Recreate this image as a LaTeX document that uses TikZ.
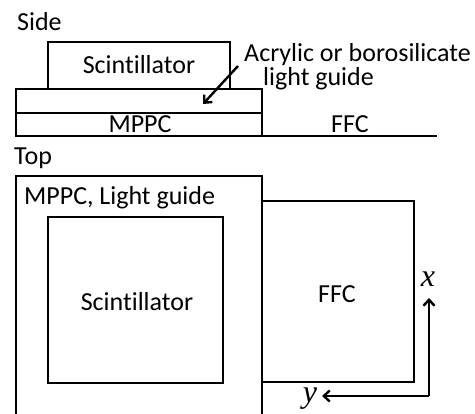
\documentclass[tikz,border=0pt]{standalone}
\usepackage{fontspec}
\setmainfont[Ligatures=NoCommon]{Carlito}
\newfontfamily\axisfont{Liberation Serif}
\usetikzlibrary{arrows.meta}
\begin{document}
\begin{tikzpicture}[x=1pt,y=-1pt,
  box/.style={draw,line width=2.4pt},
  lbl/.style={inner sep=0pt,font=\fontsize{26}{30}\selectfont},
  axlbl/.style={inner sep=0pt,font=\axisfont\itshape\fontsize{32}{36}\selectfont},
  axis/.style={line width=2.4pt,-{Straight Barb[length=6pt,width=11pt,line width=2.4pt]}}]
\useasboundingbox (0,0) rectangle (475,414);
% Side view
\node[lbl,anchor=west] (side) at (17,22) {Side};
\draw[box] (48,42) rectangle (230,89);
\node[lbl] (sscint) at (139,65) {Scintillator};
\draw[box] (16,89) rectangle (262,113);
\draw[box] (16,113) rectangle (262,136);
\node[lbl] (smppc) at (140,124) {MPPC};
\draw[line width=2.4pt] (262,136) -- (437,136);
\node[lbl] (sffc) at (350,124) {FFC};
\node[lbl,anchor=west] (acr) at (244,55) {Acrylic or borosilicate};
\node[lbl,anchor=west] (lg) at (263,79) {light guide};
\coordinate (astart) at (238,66);
\coordinate (aend) at (203,104);
\draw[line width=2.4pt,-{Straight Barb[length=6pt,width=11pt,line width=2.4pt]}] (astart) -- (aend);
% Top view
\node[lbl,anchor=west] (top) at (14,158) {Top};
\draw[box] (16,176) rectangle (262,418);
\node[lbl,anchor=west] (tml) at (24,198) {MPPC, Light guide};
\draw[box] (48,217) rectangle (223,383);
\node[lbl] (tscint) at (137,302) {Scintillator};
\draw[box] (262,201) -- (414,201) -- (414,382) -- (262,382);
\node[lbl] (tffc) at (337,294) {FFC};
\coordinate (origin) at (429,396);
\coordinate (xend) at (429,298);
\coordinate (yend) at (322,396);
\draw[axis] (origin) -- (xend);
\draw[axis] (origin) -- (yend);
\node[axlbl] (xl) at (428,279) {x};
\node[axlbl] (yl) at (310,399) {y};
\end{tikzpicture}
\end{document}
